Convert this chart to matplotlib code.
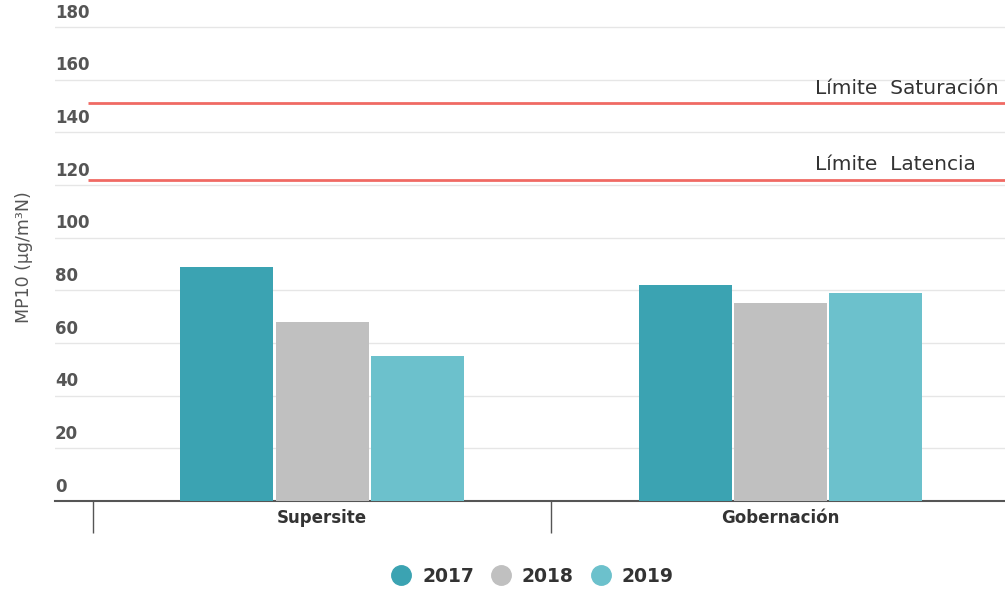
import numpy as np
import matplotlib.pyplot as plt
from matplotlib.lines import Line2D

# datos
estaciones = ['Supersite', 'Gobernación']
anios = ['2017', '2018', '2019']
mp10_2017 = [89.0, 82.0]
mp10_2018 = [68.0, 75.0]
mp10_2019 = [55.0, 79.0]
limite_saturacion = 151
limite_latencia = 122
yticks = [0, 20, 40, 60, 80, 100, 120, 140, 160, 180]

colores = ['#3ba3b2', '#c0c0c0', '#6cc1cc']
rojo = '#f06a64'

fig = plt.figure(figsize=(10.05, 5.92), dpi=100)
ax = fig.add_axes([55 / 1005, 91 / 592, 950 / 1005, 487.3 / 592])

x = np.arange(len(estaciones))
ancho = 0.203
series = [mp10_2017, mp10_2018, mp10_2019]
for i, (vals, c) in enumerate(zip(series, colores)):
    ax.bar(x + (i - 1) * (ancho + 0.005), vals, width=ancho, color=c, zorder=3)

ax.set_xlim(-0.583, 1.49)
ax.set_ylim(0, 185)

# grilla y etiquetas del eje y
for v in yticks[1:]:
    ax.axhline(v, color='#e6e6e6', lw=1, zorder=1)
for v in yticks:
    ax.text(0.0, v + 2.0, str(v), transform=ax.get_yaxis_transform(),
            ha='left', va='bottom', fontsize=12, fontweight='bold', color='#555555')
ax.set_yticks([])

# limites
ax.hlines([limite_saturacion, limite_latencia], -0.511, 1.49, colors=rojo, lw=2, zorder=4)
ax.text(1.076, limite_saturacion + 2, 'Límite  Saturación', ha='left', va='bottom',
        fontsize=14.5, color='#333333')
ax.text(1.076, limite_latencia + 2, 'Límite  Latencia', ha='left', va='bottom',
        fontsize=14.5, color='#333333')

# eje x
for s in ['top', 'right', 'left']:
    ax.spines[s].set_visible(False)
ax.spines['bottom'].set_color('#555555')
ax.spines['bottom'].set_linewidth(1.5)
ax.set_xticks([-0.5, 0.5], minor=False)
ax.set_xticklabels([])
ax.tick_params(axis='x', length=23, width=1, color='#555555')
ax.set_xticks(x, minor=True)
ax.set_xticklabels(estaciones, minor=True, fontsize=12, fontweight='bold', color='#333333')
ax.tick_params(axis='x', which='minor', length=0, pad=6)

ax.set_ylabel('MP10 (µg/m³N)', fontsize=12.5, color='#555555', labelpad=16)

handles = [Line2D([], [], marker='o', ls='', markersize=14, color=c) for c in colores]
fig.legend(handles, anios, loc='center', bbox_to_anchor=(528 / 1005, 1 - 576 / 592), ncol=3,
           frameon=False, handletextpad=0.1, columnspacing=0.45,
           prop={'size': 13.5, 'weight': 'bold'}, labelcolor='#333333')

fig.savefig('out.png', dpi=100)
